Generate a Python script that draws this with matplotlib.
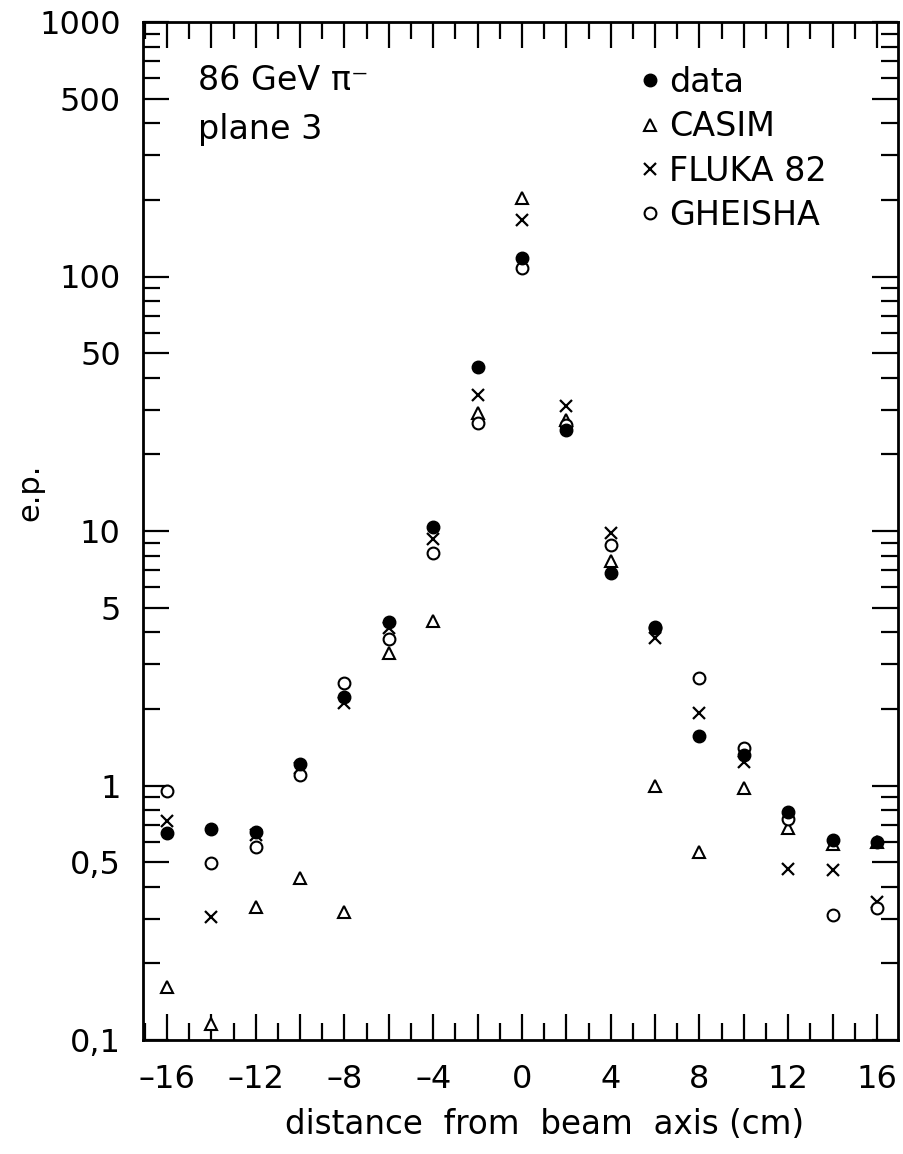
import matplotlib
matplotlib.use("Agg")
import matplotlib.pyplot as plt
from matplotlib.ticker import FixedLocator, FixedFormatter, MultipleLocator, FuncFormatter
from matplotlib.lines import Line2D

plt.rcParams['font.family'] = ['DejaVu Sans']

# ---- data ----
distance = [-16, -14, -12, -10, -8, -6, -4, -2, 0, 2, 4, 6, 8, 10, 12, 14, 16]
data_vals = [0.649, 0.673, 0.657, 1.22, 2.23, 4.40, 10.4, 44.2, 117.9, 24.9, 6.82, 4.15, 1.565, 1.318, 0.79, 0.61, 0.60]
casim_vals = [0.161, 0.116, 0.334, 0.434, 0.319, 3.32, 4.44, 29.0, 203.0, 27.3, 7.64, 1.00, 0.55, 0.975, 0.68, 0.59, 0.60]
fluka_vals = [0.727, 0.305, 0.64, 1.17, 2.11, 4.15, 9.27, 34.2, 167.0, 31.0, 9.79, 3.79, 1.93, 1.24, 0.469, 0.466, 0.349]
gheisha_vals = [0.954, 0.494, 0.571, 1.10, 2.52, 3.75, 8.22, 26.5, 107.7, 26.1, 8.81, 4.2, 2.65, 1.40, 0.737, 0.310, 0.329]

y_major = [0.1, 0.5, 1, 5, 10, 50, 100, 500, 1000]
y_major_labels = ["0,1", "0,5", "1", "5", "10", "50", "100", "500", "1000"]
y_minor = [m * d for d in [0.1, 1, 10, 100] for m in [2, 3, 4, 6, 7, 8, 9]]
x_labels = [-16, -12, -8, -4, 0, 4, 8, 12, 16]

W, H = 904, 1154
fig = plt.figure(figsize=(W / 100, H / 100), dpi=100)
ax = fig.add_axes([143 / W, 1 - 1040 / H, (898 - 143) / W, (1040 - 22) / H])

ax.set_yscale('log')
ax.set_ylim(0.1, 1000)
ax.set_xlim(-17.08, 16.95)

ms = 9
ax.plot(distance, casim_vals, linestyle='none', marker='^', ms=ms, mfc='white', mec='black', mew=1.5, label='CASIM')
ax.plot(distance, fluka_vals, linestyle='none', marker='x', ms=ms - 1, mec='black', mew=1.6, label='FLUKA 82')
ax.plot(distance, gheisha_vals, linestyle='none', marker='o', ms=ms - 0.5, mfc='white', mec='black', mew=1.5, label='GHEISHA')
ax.plot(distance, data_vals, linestyle='none', marker='o', ms=ms, mfc='black', mec='black', label='data')

# ticks
ax.yaxis.set_major_locator(FixedLocator(y_major))
ax.yaxis.set_major_formatter(FixedFormatter(y_major_labels))
ax.yaxis.set_minor_locator(FixedLocator(y_minor))
ax.yaxis.set_minor_formatter(FuncFormatter(lambda v, p: ""))
ax.xaxis.set_major_locator(MultipleLocator(2))
ax.xaxis.set_minor_locator(MultipleLocator(1))
ax.xaxis.set_major_formatter(FuncFormatter(lambda v, p: ("%d" % round(v)).replace('-', '\u2013') if round(v) in x_labels else ""))

ax.tick_params(which='both', direction='in', top=True, right=True, width=1.6, colors='black')
ax.tick_params(which='major', length=19)
ax.tick_params(which='minor', length=12)
ax.tick_params(axis='x', which='major', pad=17, labelsize=23)
ax.tick_params(axis='y', which='major', pad=16, labelsize=23)
for s in ax.spines.values():
    s.set_linewidth(2.0)

# annotations
fig.text(198 / W, 1 - 81 / H, "86 GeV \u03c0\u207b", fontsize=24, va='center', ha='left')
fig.text(198 / W, 1 - 129 / H, "plane 3", fontsize=24, va='center', ha='left')

handles = [
    Line2D([], [], linestyle='none', marker='o', ms=ms, mfc='black', mec='black'),
    Line2D([], [], linestyle='none', marker='^', ms=ms, mfc='white', mec='black', mew=1.5),
    Line2D([], [], linestyle='none', marker='x', ms=ms - 1, mec='black', mew=1.6),
    Line2D([], [], linestyle='none', marker='o', ms=ms - 0.5, mfc='white', mec='black', mew=1.5),
]
leg = ax.legend(handles, ['data', 'CASIM', 'FLUKA 82', 'GHEISHA'], loc='upper left',
                bbox_to_anchor=(642 / W, 1 - 66 / H), bbox_transform=fig.transFigure,
                frameon=False, fontsize=24, handlelength=0.5, handletextpad=0.3,
                labelspacing=0.34, borderpad=0, borderaxespad=0)

fig.text(545 / W, 1 - 1125 / H, "distance  from  beam  axis (cm)", fontsize=23.5, ha='center', va='center')
fig.text(30 / W, 1 - 492 / H, "e.p.", fontsize=22, rotation=90, ha='center', va='center')

fig.savefig("out.png", dpi=100)
